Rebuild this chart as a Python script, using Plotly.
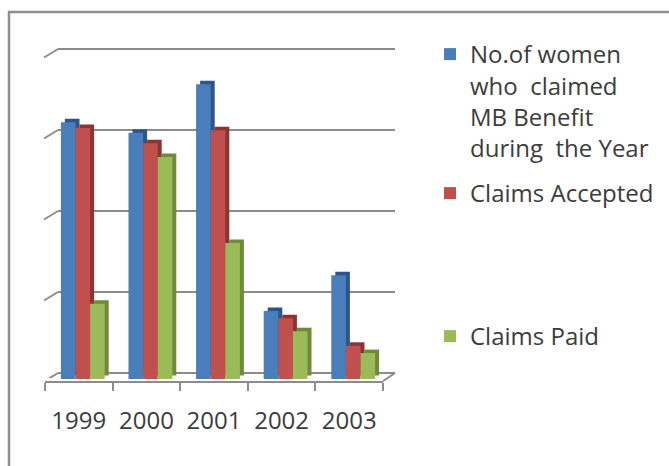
import plotly.graph_objects as go

# ---- data -------------------------------------------------------------
years = ["1999", "2000", "2001", "2002", "2003"]
women_claimed = [3170, 3040, 3640, 840, 1280]
claims_accepted = [3100, 2910, 3070, 750, 410]
claims_paid = [930, 2740, 1680, 590, 320]
grid_values = [0, 1000, 2000, 3000, 4000]

series_names = [
    "No.of women<br>who\u00a0 claimed<br>MB Benefit<br>during\u00a0 the Year",
    "Claims Accepted",
    "Claims Paid",
]
series_values = [women_claimed, claims_accepted, claims_paid]
front_colors = ["#4a7ebb", "#c0504d", "#9bbb59"]
side_colors = ["#2f5487", "#8a3533", "#6f8a3c"]

# ---- geometry helpers (figure is drawn with zero margins) -------------
W, H = 669, 466


def fx(px):
    return px / W


def fy(px):
    return 1 - px / H


PX_PER_STEP = 81.0
STEP = 1000


def units(px):
    return px * STEP / PX_PER_STEP


CAT_PX = (383 - 45) / 5.0          # width of one category
BAR_W = 14.6 / CAT_PX              # width of one bar's front face
DEPTH_X = 4.0 / CAT_PX             # side-face depth, category units
DEPTH_Y = units(3.5)               # top-face depth, value units
offsets = [-1.5 * BAR_W, -0.5 * BAR_W, 0.5 * BAR_W]

fig = go.Figure()

# back wall subplot (x/y): carries the horizontal gridlines
fig.add_trace(go.Scatter(x=[0.5], y=[0], mode="markers", marker=dict(opacity=0),
                         showlegend=False, hoverinfo="skip", xaxis="x", yaxis="y"))
# front floor edge subplot (x2/y2): category axis with ticks on boundaries
fig.add_trace(go.Scatter(x=years, y=[0] * len(years), mode="markers",
                         marker=dict(opacity=0), showlegend=False,
                         hoverinfo="skip", xaxis="x2", yaxis="y2"))

# bars (x3/y3): a darker block behind each front face gives the 3-D look
legend_ids = ["legend", "legend2", "legend3"]
for i, (name, vals) in enumerate(zip(series_names, series_values)):
    fig.add_trace(go.Bar(
        x=years, y=vals, base=DEPTH_Y, offset=offsets[i] + DEPTH_X, width=BAR_W,
        marker=dict(color=side_colors[i], line=dict(width=0)),
        showlegend=False, hoverinfo="skip", xaxis="x3", yaxis="y3"))
    fig.add_trace(go.Bar(
        x=years, y=vals, offset=offsets[i], width=BAR_W, name=name,
        marker=dict(color=front_colors[i], line=dict(width=0)),
        legend=legend_ids[i], xaxis="x3", yaxis="y3"))

GRID_COLOR = "#8c8c8c"

shapes = [
    # outer frame
    dict(type="rect", xref="paper", yref="paper", x0=fx(9), x1=fx(700),
         y0=fy(12), y1=fy(500), line=dict(color="#8f8f8f", width=2.5),
         fillcolor="rgba(0,0,0,0)", layer="below"),
    # right edge of the floor
    dict(type="line", xref="paper", yref="paper", x0=fx(383), y0=fy(381),
         x1=fx(395), y1=fy(373), line=dict(color=GRID_COLOR, width=2)),
]
# slanted stubs joining each gridline to the front
for g in grid_values:
    shapes.append(dict(type="line", xref="paper", yref="y",
                       x0=fx(44), y0=g - units(8.5), x1=fx(58), y1=g,
                       line=dict(color=GRID_COLOR, width=2)))

font = dict(family="Open Sans, Noto Sans, sans-serif", size=24, color="#3c3c3c")

legend_common = dict(xanchor="left", yanchor="top", bgcolor="rgba(0,0,0,0)",
                     font=font, valign="top", borderwidth=0)

fig.update_layout(
    width=W, height=H,
    margin=dict(l=0, r=0, t=0, b=0),
    paper_bgcolor="white", plot_bgcolor="rgba(0,0,0,0)",
    barmode="overlay",
    font=font,
    xaxis=dict(domain=[fx(58), fx(395)], range=[0, 1], visible=False, anchor="y"),
    yaxis=dict(domain=[fy(373 + 5), fy(49 - 5)],
               range=[-units(5), grid_values[-1] + units(5)],
               tickvals=grid_values, showgrid=True, gridcolor=GRID_COLOR,
               gridwidth=2, zeroline=False, showline=False,
               showticklabels=False, ticks="", anchor="x"),
    xaxis2=dict(domain=[fx(45), fx(383)], type="category", range=[-0.5, 4.5],
                anchor="y2", showline=True, linecolor=GRID_COLOR, linewidth=2,
                ticks="outside", tickson="boundaries", ticklen=8, tickwidth=2,
                tickcolor=GRID_COLOR, showgrid=False, zeroline=False,
                ticklabelstandoff=17, tickfont=font),
    yaxis2=dict(domain=[fy(381), fy(300)], range=[0, 1], visible=False, anchor="x2"),
    xaxis3=dict(domain=[fx(49), fx(387)], type="category", range=[-0.5, 4.5],
                visible=False, anchor="y3"),
    yaxis3=dict(domain=[fy(379), fy(40)], range=[0, units(379 - 40)],
                visible=False, anchor="x3"),
    shapes=shapes,
    legend=dict(x=fx(430), y=fy(32), **legend_common),
    legend2=dict(x=fx(430), y=fy(171), **legend_common),
    legend3=dict(x=fx(430), y=fy(314), **legend_common),
)

fig.write_html("out.html")
